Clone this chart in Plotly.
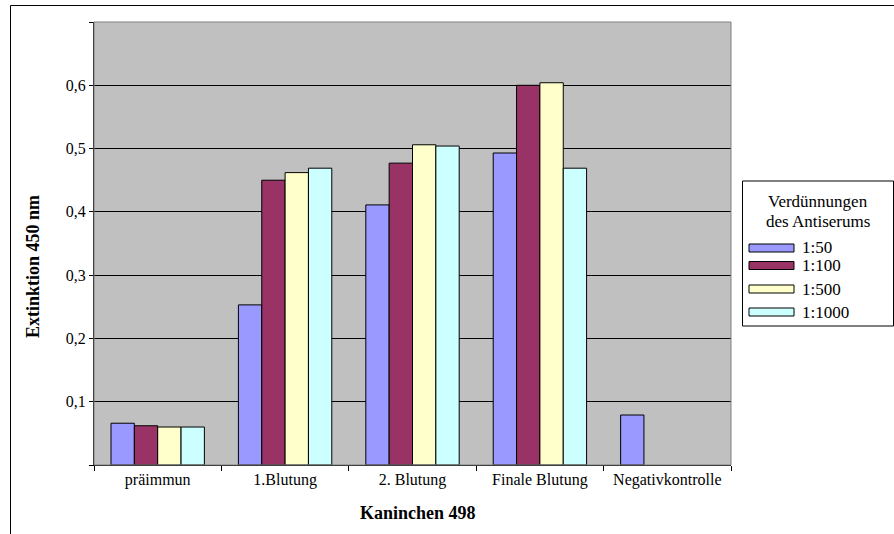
import plotly.graph_objects as go

# Kaninchen 498 – ELISA extinction at 450 nm per bleeding and antiserum dilution
categories = ["präimmun", "1.Blutung", "2. Blutung", "Finale Blutung", "Negativkontrolle"]
series_names = ["1:50", "1:100", "1:500", "1:1000"]
values_1_50 = [0.066, 0.253, 0.411, 0.493, 0.079]
values_1_100 = [0.062, 0.450, 0.477, 0.600, None]
values_1_500 = [0.060, 0.462, 0.506, 0.604, None]
values_1_1000 = [0.060, 0.469, 0.504, 0.469, None]
series_colors = ["#9999FF", "#993366", "#FFFFCC", "#CCFFFF"]
y_tick_values = [0, 0.1, 0.2, 0.3, 0.4, 0.5, 0.6, 0.7]
y_tick_labels = ["", "0,1", "0,2", "0,3", "0,4", "0,5", "0,6", ""]

W, H = 894, 534
ML, MR, MT, MB = 94, 163, 22, 69
PW, PH = W - ML - MR, H - MT - MB
FONT = "Liberation Serif"


def px_x(px):
    return (px - ML) / PW


def px_y(py):
    return (H - MB - py) / PH


fig = go.Figure()
for name, vals, col in zip(series_names,
                           [values_1_50, values_1_100, values_1_500, values_1_1000],
                           series_colors):
    fig.add_trace(go.Bar(
        x=categories, y=vals, name=name,
        marker=dict(color=col, line=dict(color="#000000", width=1)),
        showlegend=False,
    ))

shapes = []
# outer chart frame
shapes.append(dict(type="rect", xref="paper", yref="paper",
                   x0=px_x(10.5), x1=px_x(905), y0=px_y(5.5), y1=px_y(545),
                   line=dict(color="#000000", width=1), layer="below"))
# plot-area border (top and right edges appear grey)
shapes.append(dict(type="rect", xref="paper", yref="paper",
                   x0=0, x1=1, y0=0, y1=1,
                   line=dict(color="#808080", width=1), layer="above"))

# legend box
lg_x0, lg_x1, lg_y0, lg_y1 = 742.5, 893.5, 181, 326
shapes.append(dict(type="rect", xref="paper", yref="paper",
                   x0=px_x(lg_x0), x1=px_x(lg_x1), y0=px_y(lg_y0), y1=px_y(lg_y1),
                   line=dict(color="#000000", width=1), fillcolor="#FFFFFF"))

annotations = []
lg_cx = (lg_x0 + lg_x1) / 2
annotations.append(dict(xref="paper", yref="paper", x=px_x(lg_cx), y=px_y(201),
                        text="Verdünnungen", showarrow=False,
                        xanchor="center", yanchor="middle",
                        font=dict(family=FONT, size=17, color="#000000")))
annotations.append(dict(xref="paper", yref="paper", x=px_x(lg_cx), y=px_y(221),
                        text="des Antiserums", showarrow=False,
                        xanchor="center", yanchor="middle",
                        font=dict(family=FONT, size=17, color="#000000")))
item_centers = [248, 265.5, 289, 312]
for name, col, cy in zip(series_names, series_colors, item_centers):
    shapes.append(dict(type="rect", xref="paper", yref="paper",
                       x0=px_x(749), x1=px_x(794), y0=px_y(cy - 4), y1=px_y(cy + 4),
                       line=dict(color="#000000", width=1), fillcolor=col))
    annotations.append(dict(xref="paper", yref="paper", x=px_x(800), y=px_y(cy),
                            text=name, showarrow=False,
                            xanchor="left", yanchor="middle",
                            font=dict(family=FONT, size=17, color="#000000")))

# axis titles
annotations.append(dict(xref="paper", yref="paper", x=px_x(418), y=px_y(513),
                        text="<b>Kaninchen 498</b>", showarrow=False,
                        xanchor="center", yanchor="middle",
                        font=dict(family=FONT, size=18, color="#000000")))
annotations.append(dict(xref="paper", yref="paper", x=px_x(33), y=px_y(267),
                        text="<b>Extinktion 450 nm</b>", showarrow=False, textangle=-90,
                        xanchor="center", yanchor="middle",
                        font=dict(family=FONT, size=18, color="#000000")))

fig.update_layout(
    width=W, height=H,
    margin=dict(l=ML, r=MR, t=MT, b=MB, pad=0),
    paper_bgcolor="#FFFFFF",
    plot_bgcolor="#C0C0C0",
    barmode="group",
    bargap=0.267,
    bargroupgap=0,
    showlegend=False,
    shapes=shapes,
    annotations=annotations,
    font=dict(family=FONT, size=16, color="#000000"),
    xaxis=dict(
        type="category",
        showline=True, linecolor="#000000", linewidth=1,
        ticks="outside", ticklen=5, tickcolor="#000000", tickson="boundaries",
        showgrid=False,
        tickfont=dict(family=FONT, size=16, color="#000000"),
    ),
    yaxis=dict(
        range=[0, 0.7],
        tickmode="array", tickvals=y_tick_values, ticktext=y_tick_labels,
        showline=True, linecolor="#000000", linewidth=1,
        ticks="outside", ticklen=4, tickcolor="#000000",
        showgrid=True, gridcolor="#000000", gridwidth=1,
        zeroline=False,
        tickfont=dict(family=FONT, size=16, color="#000000"),
    ),
)

fig.write_html("out.html")
